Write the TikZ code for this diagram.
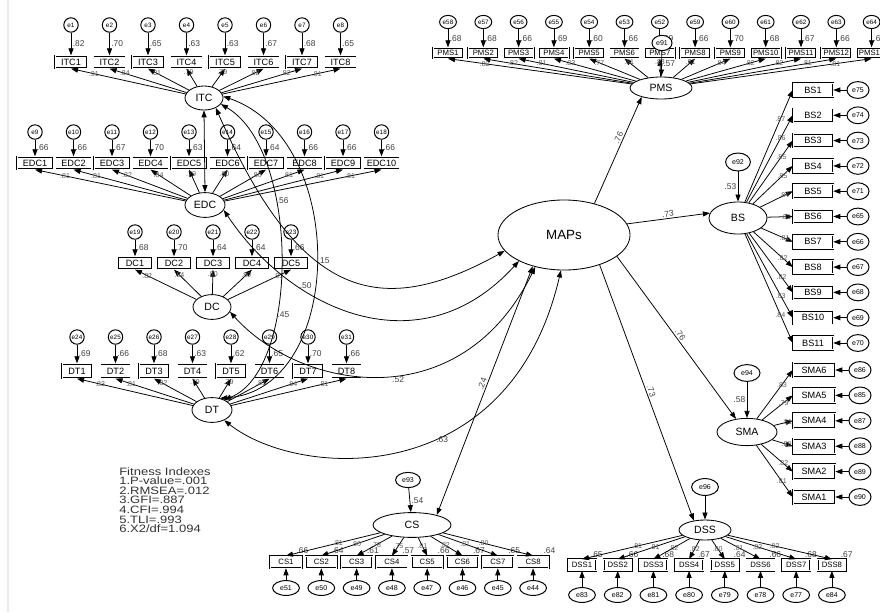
\documentclass[tikz,border=0pt]{standalone}
\usepackage{fontspec}
\setmainfont{Liberation Sans}
\usetikzlibrary{shapes.geometric,arrows.meta}

\newcommand\fitln[1]{\scalebox{1.22}[1]{#1}}

\tikzset{
  lat/.style={ellipse, draw, line width=.6pt, inner sep=0pt, font=\fontsize{7.5}{8}\selectfont},
  obs/.style={rectangle, draw, double, double distance=.7pt, line width=.35pt, inner sep=0pt, minimum height=.32cm, font=\fontsize{6.5}{7}\selectfont},
  obsS/.style={obs, font=\fontsize{5.5}{6}\selectfont},
  err/.style={circle, draw, line width=.7pt, inner sep=0pt, minimum size=.36cm, font=\fontsize{4.5}{5}\selectfont},
  erb/.style={ellipse, draw, fill=white, line width=.7pt, inner sep=0pt, minimum width=.55cm, minimum height=.42cm, font=\fontsize{5}{5}\selectfont},
  pth/.style={-{Triangle[length=5pt,width=3.6pt]}, line width=.55pt},
  cov/.style={{Triangle[length=5pt,width=3.6pt]}-{Triangle[length=5pt,width=3.6pt]}, line width=.55pt},
  r2/.style={font=\fontsize{6}{6}\selectfont, inner sep=1pt, text=black!75},
  ld/.style={font=\fontsize{5}{5}\selectfont, inner sep=.5pt, text=black!65},
}

\begin{document}
\begin{tikzpicture}[x=0.025cm, y=-0.025cm]
\useasboundingbox (0,0) rectangle (880,612);
\fill[white] (0,0) rectangle (880,612);
\draw[black!8, line width=1.2pt] (8,0) -- (8,612);

% second order factor
\node[lat, minimum width=3.3cm, minimum height=1.75cm, font=\fontsize{9.5}{10}\selectfont] (MAPs) at (564,235) {MAPs};

% ITC
\node[lat, minimum width=.95cm, minimum height=.6cm] (ITC) at (204,98) {ITC};
\foreach \v/\w [count=\i] in {.82/.91,.70/.84,.65/.81,.63/.79,.63/.79,.67/.82,.68/.82,.65/.81} {
  \node[obs, minimum width=.8cm] (itc\i) at ({71+38.5*(\i-1)},62) {ITC\i};
  \node[err] (e\i) at ({71+38.5*(\i-1)},25) {e\i};
  \draw[pth] (e\i) -- node[r2,right]{\v} (itc\i);
  \draw[pth] (ITC) -- node[ld,pos=.8]{\w} (itc\i.south);
}

% EDC
\node[lat, minimum width=1cm, minimum height=.62cm] (EDC) at (205,205) {EDC};
\foreach \v/\w [count=\i] in {.66/.81,.66/.81,.67/.82,.70/.84,.63/.79,.64/.80,.64/.80,.66/.81,.66/.81,.66/.81} {
  \pgfmathtruncatemacro\eno{\i+8}
  \node[obs, minimum width=.9cm] (edc\i) at ({35+38.5*(\i-1)},163) {EDC\i};
  \node[err] (e\eno) at ({35+38.5*(\i-1)},132) {e\eno};
  \draw[pth] (e\eno) -- node[r2,right]{\v} (edc\i);
  \draw[pth] (EDC) -- node[ld,pos=.8]{\w} (edc\i.south);
}

% DC
\node[lat, minimum width=.95cm, minimum height=.62cm] (DC) at (212,307) {DC};
\foreach \v/\w [count=\i] in {.68/.82,.70/.84,.64/.80,.64/.80,.66/.81} {
  \pgfmathtruncatemacro\eno{\i+18}
  \node[obs, minimum width=.87cm] (dc\i) at ({135+39*(\i-1)},263) {DC\i};
  \node[err] (e\eno) at ({135+39*(\i-1)},232) {e\eno};
  \draw[pth] (e\eno) -- node[r2,right]{\v} (dc\i);
  \draw[pth] (DC) -- node[ld,pos=.8]{\w} (dc\i.south);
}

% DT
\node[lat, minimum width=1cm, minimum height=.62cm] (DT) at (212,410) {DT};
\foreach \v/\w [count=\i] in {.69/.83,.66/.81,.68/.82,.63/.79,.62/.79,.65/.81,.70/.84,.66/.81} {
  \pgfmathtruncatemacro\eno{\i+23}
  \node[obs, minimum width=.75cm, minimum height=.37cm] (dt\i) at ({77+38.5*(\i-1)},371) {DT\i};
  \node[err] (e\eno) at ({77+38.5*(\i-1)},337) {e\eno};
  \draw[pth] (e\eno) -- node[r2,right]{\v} (dt\i);
  \draw[pth] (DT) -- node[ld,pos=.8]{\w} (dt\i.south);
}

% PMS
\node[lat, minimum width=1.55cm, minimum height=.55cm] (PMS) at (661,88) {PMS};
\foreach \e/\v/\w [count=\i] in {e58/.68/.82,e57/.68/.82,e56/.66/.81,e55/.69/.83,e54/.60/.77,e53/.66/.81,e52/.69/.83,e59/.66/.81,e60/.70/.84,e61/.68/.82,e62/.67/.82,e63/.66/.81,e64/.66/.81} {
  \node[obsS, minimum width=.75cm, minimum height=.27cm] (pms\i) at ({448+35.3*(\i-1)},53) {PMS\i};
  \node[erb, minimum width=.42cm, minimum height=.33cm, font=\fontsize{4.5}{5}\selectfont] (\e) at ({448+35.3*(\i-1)},22) {\e};
  \draw[pth] (\e) -- node[r2,right]{\v} (pms\i);
  \draw[pth] (PMS) -- node[ld,pos=.8]{\w} (pms\i.south);
}
\node[erb, minimum width=.5cm, minimum height=.38cm] (e91) at (662,43) {e91};
\draw[pth] (e91) -- node[r2,right]{.57} (PMS);

% BS
\node[lat, minimum width=1.45cm, minimum height=.8cm] (BS) at (738,218) {BS};
\foreach \e/\w [count=\i] in {e75/.87,e74/.86,e73/.85,e72/.85,e71/.84,e65/.81,e66/.81,e67/.82,e68/.82,e69/.83,e70/.84} {
  \node[obs, minimum width=1cm, minimum height=.34cm] (bs\i) at (813,{90+25.3*(\i-1)}) {BS\i};
  \node[erb] (\e) at (858,{90+25.3*(\i-1)}) {\e};
  \draw[pth] (\e) -- (bs\i);
  \draw[pth] (BS) -- node[ld,pos=.74]{\w} (bs\i.west);
}
\node[erb, minimum width=.62cm, minimum height=.45cm] (e92) at (738,162) {e92};
\draw[pth] (e92) -- node[r2,left]{.53} (BS);

% SMA
\node[lat, minimum width=1.5cm, minimum height=.68cm] (SMA) at (747,432) {SMA};
\foreach \e/\w [count=\i] in {e86/.83,e85/.79,e87/.81,e88/.80,e89/.82,e90/.81} {
  \pgfmathtruncatemacro\sno{7-\i}
  \node[obs, minimum width=1.05cm, minimum height=.37cm] (sma\sno) at (814,{370+25.4*(\i-1)}) {SMA\sno};
  \node[erb] (\e) at (860,{370+25.4*(\i-1)}) {\e};
  \draw[pth] (\e) -- (sma\sno);
  \draw[pth] (SMA) -- node[ld,pos=.7]{\w} (sma\sno.west);
}
\node[erb, minimum width=.65cm, minimum height=.42cm] (e94) at (747,373) {e94};
\draw[pth] (e94) -- node[r2,left]{.58} (SMA);

% CS
\node[lat, minimum width=1.95cm, minimum height=.62cm] (CS) at (412,525) {CS};
\foreach \e/\v/\w [count=\i] in {e51/.66/.81,e50/.64/.80,e49/.61/.78,e48/.57/.75,e47/.66/.81,e46/.67/.82,e45/.65/.81,e44/.64/.80} {
  \node[obsS, minimum width=.78cm, minimum height=.3cm] (cs\i) at ({286+35.3*(\i-1)},562) {CS\i};
  \node[erb, minimum width=.67cm, minimum height=.37cm] (\e) at ({286+35.3*(\i-1)},588) {\e};
  \draw[pth] (\e) -- (cs\i);
  \node[r2, anchor=south west, xshift=-5pt] at (cs\i.north east) {\v};
  \draw[pth] (CS) -- node[ld,pos=.45]{\w} (cs\i.north);
}
\node[erb, minimum width=.62cm, minimum height=.38cm] (e93) at (408,480) {e93};
\draw[pth] (e93) -- node[r2,right]{.54} (CS);

% DSS
\node[lat, minimum width=1.3cm, minimum height=.5cm] (DSS) at (705,530) {DSS};
\foreach \e/\v/\w [count=\i] in {e83/.65/.81,e82/.66/.81,e81/.68/.82,e80/.67/.82,e79/.64/.80,e78/.66/.81,e77/.68/.82,e84/.67/.82} {
  \node[obsS, minimum width=.7cm, minimum height=.28cm] (dss\i) at ({582+35.7*(\i-1)},565) {DSS\i};
  \node[erb, minimum width=.67cm, minimum height=.37cm] (\e) at ({582+35.7*(\i-1)},595) {\e};
  \draw[pth] (\e) -- (dss\i);
  \node[r2, anchor=south west, xshift=-5pt] at (dss\i.north east) {\v};
  \draw[pth] (DSS) -- node[ld,pos=.45]{\w} (dss\i.north);
}
\node[erb, minimum width=.67cm, minimum height=.42cm] (e96) at (705,487) {e96};
\draw[pth] (e96) -- (DSS);

% structural paths
\draw[pth] (MAPs.46) -- node[r2,sloped,above,pos=.6]{.76} (PMS.205);
\draw[pth] (MAPs.10) -- node[r2,sloped,above]{.73} (BS.170);
\draw[pth] (MAPs.338) -- node[r2,sloped,above]{.76} (SMA.130);
\draw[pth] (MAPs.320) -- node[r2,sloped,above]{.73} (DSS.140);
\draw[cov] (CS.22) -- node[r2,sloped,above,pos=.52]{.24} (MAPs.225);

% covariances
\draw[cov] (EDC.north) -- (ITC.south);
\draw[cov] (ITC.-20) .. controls (300,150) and (300,370) .. node[r2,right,pos=.35]{.56} node[r2,right,pos=.65]{.45} (DT.40);
\draw[cov] (ITC.5) .. controls (350,140) and (345,390) .. node[r2,right,pos=.5]{.15} (DT.55);
\draw[cov] (ITC.-40) .. controls (300,300) and (380,320) .. (MAPs.195);
\draw[cov] (EDC.-15) .. controls (290,310) and (420,370) .. node[r2,right,pos=.3]{.50} (MAPs.210);
\draw[cov] (DC.-15) .. controls (300,390) and (460,420) .. node[r2,below,pos=.55]{.52} (MAPs.228);
\draw[cov] (DT.-40) .. controls (300,480) and (510,490) .. node[r2,below,pos=.6]{.63} (MAPs.265);

% fit
\node[anchor=north west, align=left, inner sep=0pt, text=black!80,
  font={\fontsize{7.6}{6.85}\selectfont\lineskiplimit=-20pt}] (fit) at (119,467)
  {\fitln{Fitness Indexes}\\\fitln{1.P-value=.001}\\\fitln{2.RMSEA=.012}\\\fitln{3.GFI=.887}\\\fitln{4.CFI=.994}\\\fitln{5.TLI=.993}\\\fitln{6.X2/df=1.094}};
\end{tikzpicture}
\end{document}
